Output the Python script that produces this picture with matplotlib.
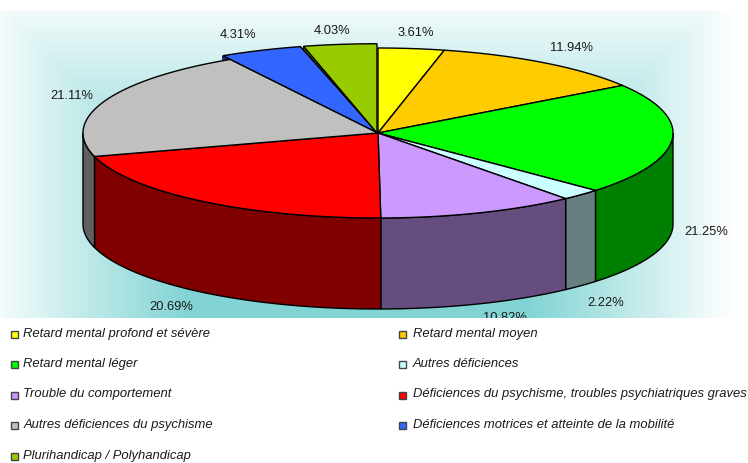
import numpy as np
import matplotlib
matplotlib.use("Agg")
import matplotlib.pyplot as plt
from matplotlib.patches import Polygon, Rectangle

plt.rcParams['font.family'] = ['Liberation Sans', 'DejaVu Sans']

categories = ["Retard mental profond et sévère", "Retard mental moyen", "Retard mental léger",
              "Autres déficiences", "Trouble du comportement",
              "Déficiences du psychisme, troubles psychiatriques graves",
              "Autres déficiences du psychisme", "Déficiences motrices et atteinte de la mobilité",
              "Plurihandicap / Polyhandicap"]
values = [3.61, 11.94, 21.25, 2.22, 10.82, 20.69, 21.11, 4.31, 4.03]
colors = ["#ffff00", "#ffcc00", "#00ff00", "#ccffff", "#cc99ff", "#ff0000", "#c0c0c0", "#3366ff", "#99cc00"]
side_colors = ["#808000", "#806600", "#008000", "#668080", "#664d80", "#800000", "#606060", "#1a3380", "#4d6600"]
exploded = [1, 1, 1, 1, 1, 1, 1, 1.05, 1.05]
label_xy = [(416, 33), (572, 48), (706, 232), (606, 303), (505, 318), (171, 307), (72, 96), (238, 35), (332, 31)]

cx, cy = 378, 133
rx, ry = 295, 85
depth = 91

fig = plt.figure(figsize=(7.48, 4.63), dpi=100)
ax = fig.add_axes([0, 0, 1, 1])
ax.axis("off")

# background gradient behind the pie, rectangular bands
xx, yy = np.meshgrid(np.arange(748), np.arange(11, 318))
tx = np.clip((np.abs(xx - 358) - 170) / 205.0, 0, 1)
ty = np.clip((195 - yy) / 208.0, 0, 1)
t = np.maximum(tx, ty)
img = np.zeros(xx.shape + (3,))
img[..., 0] = (130 + 125 * t) / 255
img[..., 1] = (212 + 43 * t) / 255
img[..., 2] = (212 + 43 * t) / 255
ax.imshow(img, extent=(0, 748, 318, 11), aspect="auto", zorder=0)
ax.set_xlim(0, 748)
ax.set_ylim(463, 0)


def rim(a0, a1, scale=1.0, dy=0):
    ang = np.radians(np.linspace(a0, a1, 60))
    return np.column_stack((cx + scale * rx * np.sin(ang), cy + dy - scale * ry * np.cos(ang)))


bounds = np.concatenate(([0], np.cumsum(values))) * 360.0 / sum(values)

# outer wall, only the part facing the viewer
for i in range(len(values)):
    a0, a1 = max(bounds[i], 90), min(bounds[i + 1], 270)
    if a1 <= a0:
        continue
    wall = np.vstack((rim(a0, a1), rim(a0, a1, dy=depth)[::-1]))
    ax.add_patch(Polygon(wall, fc=side_colors[i], ec="black", lw=1, zorder=2))

# exploded slices show a sliver of wall along their left edge
blue_tip = rim(bounds[7], bounds[7], exploded[7])[0]
ax.add_patch(Polygon([(cx, cy), blue_tip, blue_tip + (0, 6)], fc=side_colors[7], ec="black", lw=1, zorder=2))
ax.add_patch(Rectangle((blue_tip[0] - 0.5, blue_tip[1]), 4, 7, fc=side_colors[7], ec="none", zorder=2))

olive_start = bounds[8] + 0.8
olive_tip = rim(olive_start, olive_start, exploded[8])[0] - (1, 0)
ax.add_patch(Polygon([(cx - 1, cy), olive_tip, olive_tip + (-0.5, 3)], fc=side_colors[8], ec="black", lw=0.8, zorder=5))

# top faces
for i in range(len(values)):
    a0 = olive_start if i == 8 else bounds[i]
    top = np.vstack(([cx, cy], rim(a0, bounds[i + 1], exploded[i])))
    if i == 8:
        top = top - (1, 0)
    ax.add_patch(Polygon(top, fc=colors[i], ec="black", lw=1, zorder=3 if i < 7 else 4 + (i == 8) * 2))

for val, (lx, ly) in zip(values, label_xy):
    ax.text(lx, ly, f"{val:.2f}%", fontsize=9.3, color="#1a1a1a", ha="center", va="center", zorder=7)

# legend block covers whatever sits below the plot area
ax.add_patch(Rectangle((0, 318), 748, 145, fc="white", ec="none", zorder=8))
for i, name in enumerate(categories):
    col, row = i % 2, i // 2
    x0 = 11 if col == 0 else 399
    y0 = 334 + row * 30.5
    ax.add_patch(Rectangle((x0 + 0.5, y0 - 3.5), 7, 7, fc=colors[i], ec="#444444", lw=1, zorder=9))
    ax.text(x0 + 12.5 + col * 1.5, y0 - 0.5, name, fontsize=9.4, style="italic", color="#1a1a1a",
            va="center", zorder=9, clip_on=True)

fig.savefig("out.png", dpi=100)
